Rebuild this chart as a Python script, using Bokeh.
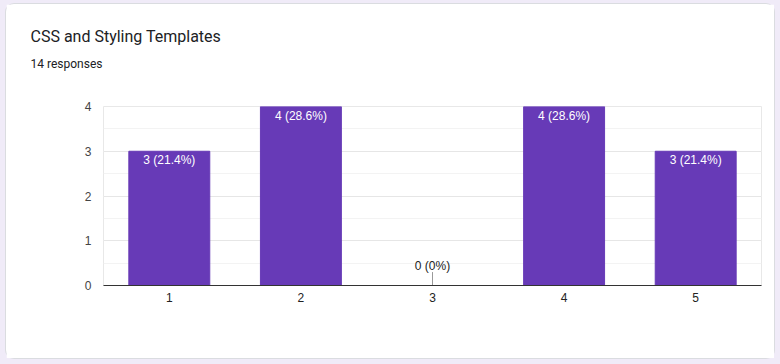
from bokeh.plotting import figure
from bokeh.models import Title, SingleIntervalTicker, ColumnDataSource
from bokeh.core.properties import value
from bokeh.embed import file_html
from bokeh.resources import INLINE

title = "CSS and Styling Templates"
subtitle = "14 responses"
categories = ["1", "2", "3", "4", "5"]
counts = [3, 4, 0, 4, 3]

total = sum(counts)
labels = [f"{c} ({round(100 * c / total, 1):g}%)" for c in counts]

pos_src = ColumnDataSource(dict(
    x=[c for c, v in zip(categories, counts) if v > 0],
    top=[v for v in counts if v > 0],
    lab=[l for l, v in zip(labels, counts) if v > 0],
))
zero_src = ColumnDataSource(dict(
    x=[c for c, v in zip(categories, counts) if v == 0],
    y=[v for v in counts if v == 0],
    y1=[v + 0.3 for v in counts if v == 0],
    lab=[l for l, v in zip(labels, counts) if v == 0],
))

p = figure(x_range=categories, y_range=(0, 4), width=768, height=354,
           output_backend="svg", toolbar_location=None,
           min_border_left=97, min_border_right=13, min_border_top=102,
           min_border_bottom=73)
p.styles = {"margin": "4px 0 0 6px", "border-radius": "8px",
            "box-shadow": "0 0 0 1px #dadce0, 0 0 0 30px #f0ebf8"}
p.background_fill_color = "white"
p.border_fill_color = "white"
p.outline_line_color = "#e8e8e8"

p.vbar(x="x", top="top", width=0.615, source=pos_src, color="#673ab7")
p.text(x="x", y="top", text="lab", source=pos_src, text_color="white",
       text_align="center", text_baseline="top", y_offset=2,
       text_font=value("Liberation Sans"), text_font_size="12px")
p.segment(x0="x", y0="y", x1="x", y1="y1", source=zero_src,
          line_color="#999999", line_width=1)
p.text(x="x", y="y1", text="lab", source=zero_src, text_color="#222222",
       text_align="center", text_baseline="bottom", y_offset=1,
       text_font=value("Liberation Sans"), text_font_size="12px")

p.yaxis.ticker = SingleIntervalTicker(interval=1, num_minor_ticks=2)
p.yaxis.axis_line_color = None
p.yaxis.major_tick_line_color = None
p.yaxis.minor_tick_line_color = None
p.yaxis.major_tick_out = 0
p.yaxis.minor_tick_out = 0
p.yaxis.major_label_standoff = 12
p.yaxis.major_label_text_font = "Liberation Sans"
p.yaxis.major_label_text_font_size = "12px"
p.yaxis.major_label_text_color = "#444444"

p.xaxis.axis_line_color = "#333333"
p.xaxis.major_tick_line_color = None
p.xaxis.minor_tick_line_color = None
p.xaxis.major_tick_out = 0
p.xaxis.minor_tick_out = 0
p.xaxis.major_label_standoff = 7
p.xaxis.major_label_text_font = "Liberation Sans"
p.xaxis.major_label_text_font_size = "12px"
p.xaxis.major_label_text_color = "#222222"

p.xgrid.grid_line_color = None
p.ygrid.grid_line_color = "#e6e6e6"
p.ygrid.minor_grid_line_color = "#f3f3f3"

# outer (top) title
p.title.text = title
p.title.align = "left"
p.title.offset = -73
p.title.standoff = -54
p.title.text_font = "Roboto"
p.title.text_font_size = "16px"
p.title.text_font_style = "normal"
p.title.text_color = "#202124"
# inner title, next to the frame
p.add_layout(Title(text=subtitle, align="left", offset=-73, standoff=72,
                   text_font="Roboto", text_font_size="12px",
                   text_font_style="normal", text_color="#202124"), "above")

open("out.html", "w").write(file_html(p, INLINE))
